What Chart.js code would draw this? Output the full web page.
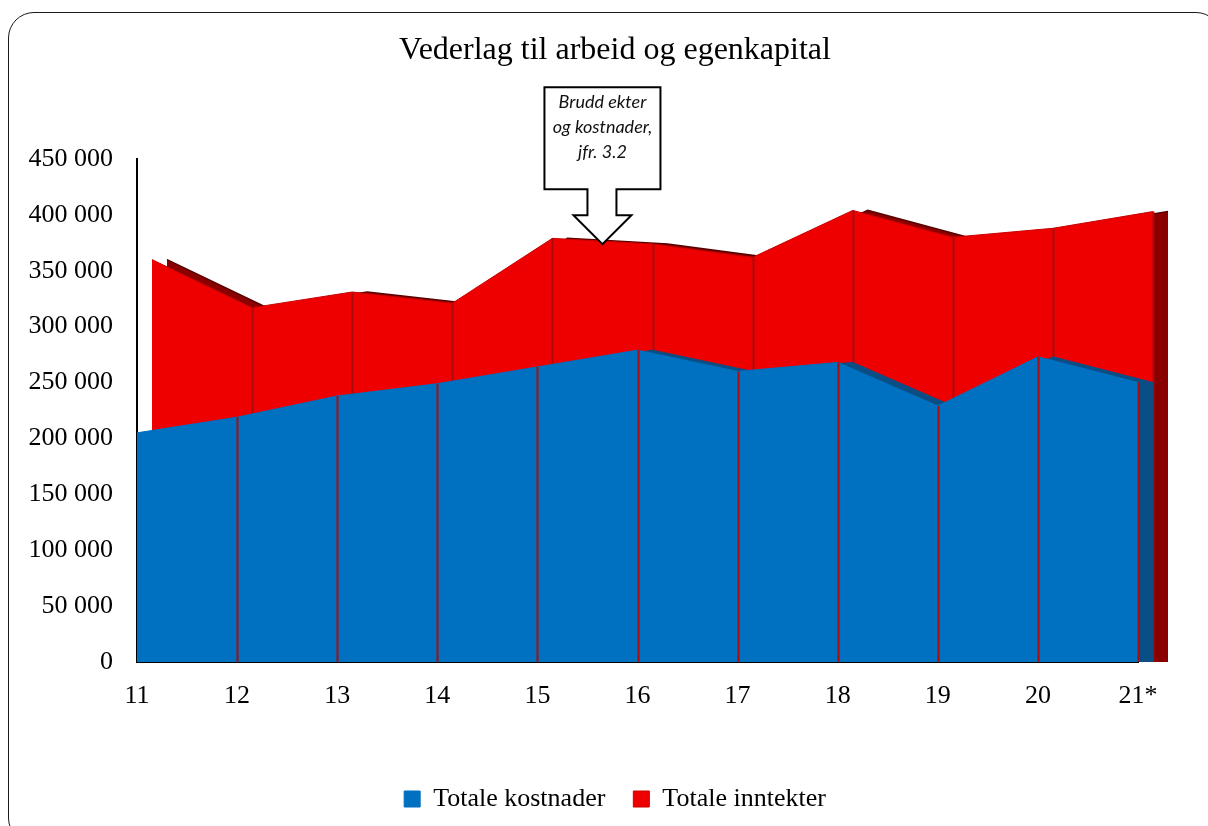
<!DOCTYPE html>
<html>
<head>
<meta charset="utf-8">
<script src="https://cdn.jsdelivr.net/npm/chart.js@4/dist/chart.umd.min.js"></script>
<style>
  html, body { margin: 0; padding: 0; background: #fff; overflow: hidden; }
  #wrap { position: relative; width: 1208px; height: 826px; }
  #frame {
    position: absolute; left: 8px; top: 12px; width: 1212px; height: 830px;
    border: 1.5px solid #1a1a1a; border-radius: 26px; pointer-events: none;
  }
  canvas { position: absolute; left: 0; top: 0; }
</style>
</head>
<body>
<div id="wrap">
  <canvas id="chart" width="1208" height="826"></canvas>
  <div id="frame"></div>
</div>
<script>
// Vederlag til arbeid og egenkapital (NOK)
const years = ['11', '12', '13', '14', '15', '16', '17', '18', '19', '20', '21*'];
const kostnader = [205000, 219000, 238000, 249000, 264000, 279000, 260000, 268000, 229000, 273000, 250000];
const inntekter = [360000, 317000, 331000, 321000, 379000, 374000, 362000, 404000, 380000, 388000, 403000];
const noteLines = ['Brudd ekter', 'og kostnader,', 'jfr. 3.2'];

const DEPTH = 15;
const SERIF = "'Liberation Serif', 'Times New Roman', serif";

function fmt(v) {
  return String(v).replace(/\B(?=(\d{3})+(?!\d))/g, ' ');
}

// shifts each dataset sideways to fake the 3D depth, and draws the segment edges
const depthPlugin = {
  id: 'depth',
  beforeDatasetDraw(chart, args) {
    const ds = chart.data.datasets[args.index];
    chart.ctx.save();
    chart.ctx.translate(ds.shiftX || 0, 0);
  },
  afterDatasetDraw(chart, args) {
    const ds = chart.data.datasets[args.index];
    const ctx = chart.ctx;
    if (ds.edges) {
      const base = chart.scales.y.getPixelForValue(0);
      ctx.strokeStyle = '#a80c0c';
      ctx.lineWidth = 2;
      args.meta.data.forEach((pt, i) => {
        if (i === 0) return;
        ctx.beginPath();
        ctx.moveTo(Math.round(pt.x) + 0.5, pt.y);
        ctx.lineTo(Math.round(pt.x) + 0.5, base);
        ctx.stroke();
      });
    }
    ctx.restore();
  }
};

// callout box with the down arrow
const notePlugin = {
  id: 'note',
  afterDraw(chart) {
    const ctx = chart.ctx;
    const x = chart.scales.x, y = chart.scales.y;
    const tx = (x.getPixelForValue(4) + x.getPixelForValue(5)) / 2 + DEPTH;
    const ty = y.getPixelForValue((inntekter[4] + inntekter[5]) / 2) + 3;
    const boxL = tx - 58, boxR = tx + 58, boxT = ty - 157, boxB = ty - 55;
    const stemL = tx - 15, stemR = tx + 14, headT = ty - 29, headW = 29;
    ctx.save();
    ctx.beginPath();
    ctx.moveTo(boxL, boxT);
    ctx.lineTo(boxR, boxT);
    ctx.lineTo(boxR, boxB);
    ctx.lineTo(stemR, boxB);
    ctx.lineTo(stemR, headT);
    ctx.lineTo(tx + headW, headT);
    ctx.lineTo(tx, ty);
    ctx.lineTo(tx - headW, headT);
    ctx.lineTo(stemL, headT);
    ctx.lineTo(stemL, boxB);
    ctx.lineTo(boxL, boxB);
    ctx.closePath();
    ctx.fillStyle = '#fff';
    ctx.fill();
    ctx.strokeStyle = '#000';
    ctx.lineWidth = 2;
    ctx.stroke();
    ctx.fillStyle = '#111';
    ctx.font = "italic 18px Lato, 'Liberation Sans', sans-serif";
    ctx.textAlign = 'center';
    ctx.textBaseline = 'middle';
    noteLines.forEach((t, i) => ctx.fillText(t, tx, boxT + 15 + i * 25));
    ctx.restore();
  }
};

// filler has to run after the depth shift so the fills move with the lines
const filler = Chart.registry.getPlugin('filler');
Chart.unregister(filler);
Chart.register(depthPlugin, filler);

new Chart(document.getElementById('chart'), {
  type: 'line',
  data: {
    labels: years,
    datasets: [
      { label: 'Totale kostnader', data: kostnader, backgroundColor: '#0070c0', borderColor: '#0070c0',
        borderWidth: 1, fill: 'origin', shiftX: 0, edges: true },
      { label: 'kostnader dybde', data: kostnader, backgroundColor: '#0b4e85', borderColor: '#0b4e85',
        borderWidth: 1, fill: 'origin', shiftX: DEPTH, isBack: true },
      { label: 'Totale inntekter', data: inntekter, backgroundColor: '#ee0000', borderColor: '#c80000',
        borderWidth: 1, fill: 'origin', shiftX: DEPTH, edges: true },
      { label: 'inntekter dybde', data: inntekter, backgroundColor: '#8a0000', borderColor: '#5a0000',
        borderWidth: 1.5, fill: 'origin', shiftX: DEPTH * 2, isBack: true },
    ],
  },
  options: {
    responsive: false,
    animation: false,
    layout: { padding: { left: 22, right: 0, top: 15, bottom: 4 } },
    elements: { point: { radius: 0 }, line: { tension: 0 } },
    datasets: { line: { clip: false } },
    plugins: {
      title: {
        display: true,
        text: 'Vederlag til arbeid og egenkapital',
        color: '#000',
        font: { family: SERIF, size: 32, weight: 'normal' },
        padding: { top: 16, bottom: 89.6 },
      },
      legend: {
        position: 'bottom',
        labels: {
          color: '#000',
          font: { family: SERIF, size: 26 },
          boxWidth: 16,
          boxHeight: 16,
          padding: 28,
          filter: (item, data) => !data.datasets[item.datasetIndex].isBack,
        },
      },
      tooltip: { enabled: false },
    },
    scales: {
      x: {
        z: 1,
        offset: false,
        grid: { display: false, drawTicks: false },
        border: { display: true, color: '#000', width: 2 },
        ticks: { color: '#000', font: { family: SERIF, size: 26 }, padding: 19, maxRotation: 0 },
        afterFit: s => { s.height = 96; },
      },
      y: {
        z: 1,
        min: 0,
        max: 450000,
        grid: { display: false, drawTicks: false },
        border: { display: true, color: '#000', width: 2 },
        ticks: { stepSize: 50000, color: '#000', font: { family: SERIF, size: 26 }, padding: 24, callback: v => fmt(v) },
        afterFit: s => { s.width = 115; },
      },
      // empty right-hand strip that leaves room for the depth faces
      yRight: {
        position: 'right',
        grid: { display: false, drawTicks: false },
        border: { display: false },
        ticks: { display: false },
        afterFit: s => { s.width = 70; },
      },
    },
  },
  plugins: [notePlugin],
});
</script>
</body>
</html>
